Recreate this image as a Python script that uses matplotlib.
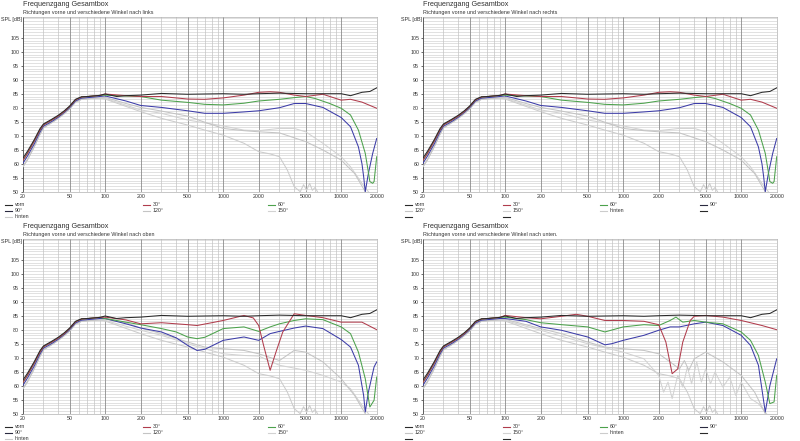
import matplotlib
matplotlib.use("Agg")
import matplotlib.pyplot as plt
from matplotlib.lines import Line2D
from matplotlib.ticker import FixedLocator, NullFormatter, NullLocator

plt.rcParams['font.family'] = ['Liberation Sans', 'DejaVu Sans']

# ---------------- data ----------------
X_TICKS = [20, 50, 100, 200, 500, 1000, 2000, 5000, 10000, 20000]
Y_TICKS = [50, 55, 60, 65, 70, 75, 80, 85, 90, 95, 100, 105]

LOW_F = [20, 22, 25, 28, 30, 35, 40, 45, 50, 56, 63, 71, 80, 90]
LOW_VORN = [61.9, 64.5, 68.5, 72.5, 74.2, 75.8, 77.3, 78.9, 80.6, 83.0, 83.9, 84.0, 84.2, 84.4]
LOW_A = [61.0, 63.8, 68.0, 72.0, 73.9, 75.5, 77.0, 78.6, 80.4, 82.8, 83.8, 84.0, 84.2, 84.4]
LOW_B = [60.0, 62.8, 67.0, 71.3, 73.4, 75.0, 76.6, 78.3, 80.0, 82.4, 83.4, 83.6, 83.8, 84.0]
LOW_C = [58.8, 61.5, 66.0, 70.5, 72.8, 74.6, 76.2, 77.9, 79.6, 82.0, 83.0, 83.2, 83.4, 83.5]

VORN_F = [100, 125, 150, 200, 300, 500, 700, 1000, 1500, 2000, 3000, 5000, 7000, 10000, 12000, 15000, 17500, 20000]
VORN_V = [84.9, 84.0, 84.3, 84.5, 85.1, 84.8, 84.9, 85.0, 84.8, 85.0, 85.2, 85.0, 85.0, 85.0, 84.3, 85.5, 85.8, 87.1]

# horizontal (links / rechts)
L30_F = [100, 150, 200, 300, 500, 700, 1000, 1500, 2000, 2500, 3000, 4000, 5000, 7000, 10000, 12000, 15000, 20000]
L30_V = [84.9, 84.3, 84.0, 84.0, 83.1, 83.0, 83.5, 84.5, 85.5, 85.7, 85.5, 84.5, 84.0, 84.8, 82.7, 83.0, 82.0, 79.8]
L60_F = [100, 150, 200, 300, 500, 700, 1000, 1500, 2000, 3000, 4000, 5000, 6000, 8000, 10000, 12000, 14000, 16000, 17000, 17500, 18500, 19000, 20000]
L60_V = [84.5, 84.2, 84.0, 82.7, 81.9, 81.2, 81.0, 81.6, 82.4, 83.0, 83.6, 84.0, 83.3, 81.5, 79.8, 77.4, 72.0, 63.7, 57.0, 53.6, 53.0, 53.6, 62.5]
L90_F = [100, 150, 200, 300, 500, 700, 1000, 1500, 2000, 3000, 4000, 5000, 7000, 10000, 12000, 14000, 15000, 15500, 16000, 17000, 18500, 20000]
L90_V = [84.2, 82.4, 80.8, 80.1, 78.9, 78.0, 78.0, 78.5, 78.9, 80.0, 81.5, 81.5, 80.1, 76.5, 73.2, 66.0, 60.0, 55.4, 50.0, 56.5, 63.7, 69.0]
L120_F = [100, 150, 200, 300, 500, 700, 1000, 1500, 2000, 3000, 5000, 7000, 10000, 13000, 16000, 20000]
L120_V = [83.7, 81.5, 80.1, 78.8, 77.0, 74.8, 72.6, 71.8, 71.4, 71.0, 67.9, 64.9, 61.3, 56.5, 50.0, 44.0]
L150_F = [100, 200, 300, 500, 1000, 1500, 2000, 3000, 4000, 5000, 7000, 10000, 12000, 15000, 17000, 20000]
L150_V = [83.3, 79.2, 78.0, 75.6, 73.5, 72.0, 71.8, 72.6, 72.6, 71.4, 67.3, 62.5, 58.9, 53.0, 50.0, 45.0]
LH_F = [100, 200, 300, 500, 700, 1000, 1500, 2000, 2500, 3000, 3500, 4000, 4500, 4800, 5100, 5400, 5700, 6000, 6500, 7000, 20000]
LH_V = [83.1, 78.6, 76.2, 73.8, 72.0, 70.2, 67.3, 64.3, 63.5, 62.5, 57.7, 51.8, 50.0, 52.5, 50.5, 53.0, 50.5, 51.5, 49.0, 46.0, 40.0]

# nach oben
U30_F = [100, 150, 200, 300, 500, 600, 800, 1000, 1500, 1800, 2000, 2200, 2500, 2800, 3200, 4000, 5000, 7000, 10000, 15000, 20000]
U30_V = [84.5, 83.5, 82.1, 82.5, 81.8, 81.5, 82.5, 83.3, 85.1, 84.2, 81.5, 74.4, 65.5, 72.0, 79.2, 85.7, 85.1, 84.3, 82.7, 82.7, 80.0]
U60_F = [100, 150, 200, 300, 400, 500, 600, 700, 1000, 1500, 2000, 2500, 3000, 4000, 5000, 7000, 10000, 12000, 14000, 16000, 17500, 19000, 20000]
U60_V = [84.0, 82.7, 81.8, 80.4, 79.2, 77.4, 76.8, 77.3, 80.4, 81.0, 79.4, 81.0, 82.1, 83.3, 83.9, 83.6, 81.0, 78.6, 72.0, 62.5, 52.4, 54.8, 63.1]
U90_F = [100, 150, 200, 300, 400, 500, 600, 700, 1000, 1500, 2000, 2500, 3000, 4000, 5000, 7000, 10000, 12000, 14000, 15500, 16000, 17000, 19000, 20000]
U90_V = [84.0, 82.1, 80.6, 79.2, 77.1, 74.4, 72.6, 73.0, 76.2, 77.4, 76.2, 78.6, 79.4, 80.6, 81.3, 80.4, 76.5, 73.8, 67.3, 56.5, 50.6, 57.7, 66.7, 68.5]
U120_F = [100, 150, 200, 300, 500, 700, 1000, 1500, 2000, 3000, 4000, 5000, 7000, 10000, 13000, 16000, 20000]
U120_V = [83.7, 82.5, 80.6, 78.6, 75.6, 73.8, 73.2, 72.6, 71.4, 69.0, 72.6, 72.0, 68.5, 62.5, 56.5, 50.0, 44.0]
U150_F = [100, 200, 300, 500, 700, 1000, 1500, 2000, 3000, 5000, 7000, 10000, 12000, 15000, 17000, 20000]
U150_V = [83.3, 79.8, 78.0, 75.0, 73.2, 71.4, 70.8, 70.6, 67.3, 65.5, 63.7, 61.3, 58.9, 53.0, 50.0, 45.0]

# nach unten
D30_F = [100, 150, 200, 300, 400, 500, 700, 1000, 1500, 2000, 2300, 2600, 2900, 3200, 3700, 4000, 5000, 7000, 10000, 15000, 20000]
D30_V = [85.1, 84.3, 83.9, 84.8, 85.5, 84.8, 83.3, 83.3, 83.0, 81.8, 75.6, 64.3, 66.0, 75.6, 83.3, 84.8, 85.1, 84.5, 83.3, 81.5, 80.0]
D60_F = [100, 150, 200, 300, 500, 700, 1000, 1500, 2000, 2500, 2800, 3200, 4000, 5000, 7000, 10000, 12000, 14000, 16000, 17500, 19000, 20000]
D60_V = [84.5, 83.6, 82.5, 81.8, 81.0, 79.2, 81.0, 81.8, 81.5, 83.3, 84.5, 82.7, 83.3, 82.7, 82.1, 79.2, 76.2, 70.8, 61.3, 53.6, 54.2, 63.7]
D90_F = [100, 150, 200, 300, 500, 700, 800, 1000, 1500, 2000, 2500, 3000, 4000, 5000, 7000, 10000, 12000, 14000, 16000, 17500, 20000]
D90_V = [84.0, 83.0, 81.0, 79.8, 77.4, 74.6, 75.0, 76.2, 78.0, 79.8, 81.0, 81.0, 82.1, 82.7, 81.5, 78.0, 74.4, 67.3, 50.6, 60.0, 69.6]
D120_F = [100, 200, 300, 500, 700, 1000, 1500, 2000, 2500, 3000, 3300, 3600, 4000, 5000, 7000, 10000, 13000, 16000, 20000]
D120_V = [83.7, 80.4, 78.6, 75.6, 73.8, 73.2, 72.6, 71.4, 68.5, 66.0, 69.0, 65.5, 69.6, 72.0, 68.5, 63.7, 57.7, 50.0, 44.0]
D150_F = [100, 200, 500, 1000, 1500, 2000, 2200, 2400, 2600, 2900, 3200, 3500, 3800, 4200, 4600, 5000, 5500, 6000, 7000, 8000, 9000, 10000, 12000, 14000, 16000, 20000]
D150_V = [83.3, 79.8, 75.0, 72.0, 69.6, 63.7, 57.7, 61.3, 55.4, 63.7, 59.5, 66.7, 60.7, 68.5, 61.3, 66.0, 60.7, 64.9, 59.5, 63.1, 56.5, 61.3, 55.4, 53.6, 50.6, 45.0]

LABELS = ['vorn', '30°', '60°', '90°', '120°', '150°', 'hinten']
COLORS = ['#2a2a2a', '#b03c4c', '#4ca24c', '#3c3ca8', '#c4c4c4', '#d2d2d2', '#cccccc']
LEGEND_COLORS = ['#2a2a2a', '#b03c4c', '#4ca24c', '#2a2a40', '#c4c4c4', '#d2d2d2', '#cccccc']

PANELS = [
    dict(sub='Richtungen vorne und verschiedene Winkel nach links', x0=0, y0=0,
         curves=[(VORN_F, VORN_V, LOW_VORN), (L30_F, L30_V, LOW_A), (L60_F, L60_V, LOW_A),
                 (L90_F, L90_V, LOW_B), (L120_F, L120_V, LOW_C), (L150_F, L150_V, LOW_C), (LH_F, LH_V, LOW_C)],
         layout='three'),
    dict(sub='Richtungen vorne und verschiedene Winkel nach rechts', x0=400, y0=0,
         curves=[(VORN_F, VORN_V, LOW_VORN), (L30_F, L30_V, LOW_A), (L60_F, L60_V, LOW_A),
                 (L90_F, L90_V, LOW_B), (L120_F, L120_V, LOW_C), (L150_F, L150_V, LOW_C), (LH_F, LH_V, LOW_C)],
         layout='four'),
    dict(sub='Richtungen vorne und verschiedene Winkel nach oben', x0=0, y0=222,
         curves=[(VORN_F, VORN_V, LOW_VORN), (U30_F, U30_V, LOW_A), (U60_F, U60_V, LOW_A),
                 (U90_F, U90_V, LOW_B), (U120_F, U120_V, LOW_C), (U150_F, U150_V, LOW_C), (LH_F, LH_V, LOW_C)],
         layout='three'),
    dict(sub='Richtungen vorne und verschiedene Winkel nach unten.', x0=400, y0=222,
         curves=[(VORN_F, VORN_V, LOW_VORN), (D30_F, D30_V, LOW_A), (D60_F, D60_V, LOW_A),
                 (D90_F, D90_V, LOW_B), (D120_F, D120_V, LOW_C), (D150_F, D150_V, LOW_C), (LH_F, LH_V, LOW_C)],
         layout='four'),
]

W, H = 800, 441
fig = plt.figure(figsize=(W / 100, H / 100), dpi=100)
fig.patch.set_facecolor('white')


def fx(px):
    return px / W


def fy(py):
    return 1 - py / H


def legend_line(px, py, color, label):
    fig.add_artist(Line2D([fx(px), fx(px + 7)], [fy(py), fy(py)], transform=fig.transFigure,
                          color=color, lw=0.8))
    if label:
        fig.text(fx(px + 10), fy(py), label, fontsize=3.8, va='center', ha='left', color='#333333')


minor_x = []
for dec in [10, 100, 1000, 10000]:
    for m in range(2, 10):
        v = m * dec
        if 20 <= v <= 20000 and v not in X_TICKS:
            minor_x.append(v)

for p in PANELS:
    x0, y0 = p['x0'], p['y0']
    left, right = x0 + 22.7, x0 + 376.7
    top, bottom = y0 + 17, y0 + 191.7
    ax = fig.add_axes([fx(left), fy(bottom), fx(right - left), (bottom - top) / H])
    ax.set_xscale('log')
    ax.set_xlim(20, 20000)
    ax.set_ylim(50, 112.4)
    ax.set_facecolor('white')
    # grid
    for yv in range(51, 113):
        ax.axhline(yv, color='#d4d4d4', lw=0.5, zorder=0)
    for xv in minor_x:
        ax.axvline(xv, color='#c4c4c4', lw=0.5, zorder=0)
    for xv in X_TICKS:
        ax.axvline(xv, color='#8c8c8c', lw=0.6, zorder=0)
    # curves (draw back to front)
    order = [6, 5, 4, 3, 2, 1, 0]
    for i in order:
        f, v, low = p['curves'][i]
        ax.plot(LOW_F + f, low + v, color=COLORS[i], lw=0.75, zorder=2 + (6 - i))
    ax.xaxis.set_major_locator(FixedLocator(X_TICKS))
    ax.xaxis.set_minor_locator(NullLocator())
    ax.set_xticklabels([str(t) for t in X_TICKS])
    ax.yaxis.set_major_locator(FixedLocator(Y_TICKS))
    ax.set_yticklabels([str(t) for t in Y_TICKS])
    ax.tick_params(axis='both', labelsize=3.8, colors='#333333', length=1.5, width=0.5, pad=1)
    ax.tick_params(axis='x', length=0, pad=2)
    for s in ['top', 'right', 'bottom']:
        ax.spines[s].set_color('#b0b0b0')
        ax.spines[s].set_linewidth(0.5)
    ax.spines['left'].set_color('#555555')
    ax.spines['left'].set_linewidth(0.6)
    # titles
    fig.text(fx(x0 + 23), fy(y0 + 5), 'Frequenzgang Gesamtbox', fontsize=5.2, va='center', ha='left',
             color='#333333')
    fig.text(fx(x0 + 23), fy(y0 + 12.3), p['sub'], fontsize=3.9, va='center', ha='left', color='#333333')
    fig.text(fx(x0 + 1), fy(y0 + 19), 'SPL [dB]', fontsize=3.9, va='center', ha='left', color='#333333')
    # legend
    r0 = y0 + 205
    if p['layout'] == 'three':
        cols = [x0 + 5, x0 + 143, x0 + 268]
        for k in range(7):
            legend_line(cols[k % 3], r0 + 6 * (k // 3), LEGEND_COLORS[k], LABELS[k])
    else:
        cols = [x0 + 5, x0 + 103, x0 + 200, x0 + 300]
        for k in range(7):
            legend_line(cols[k % 4], r0 + 6 * (k // 4), LEGEND_COLORS[k], LABELS[k])
        legend_line(cols[3], r0 + 6, '#2a2a2a', '')
        legend_line(cols[0], r0 + 12, '#2a2a2a', '')
        legend_line(cols[1], r0 + 12, '#2a2a2a', '')

fig.savefig('out.png', dpi=100, facecolor='white')
